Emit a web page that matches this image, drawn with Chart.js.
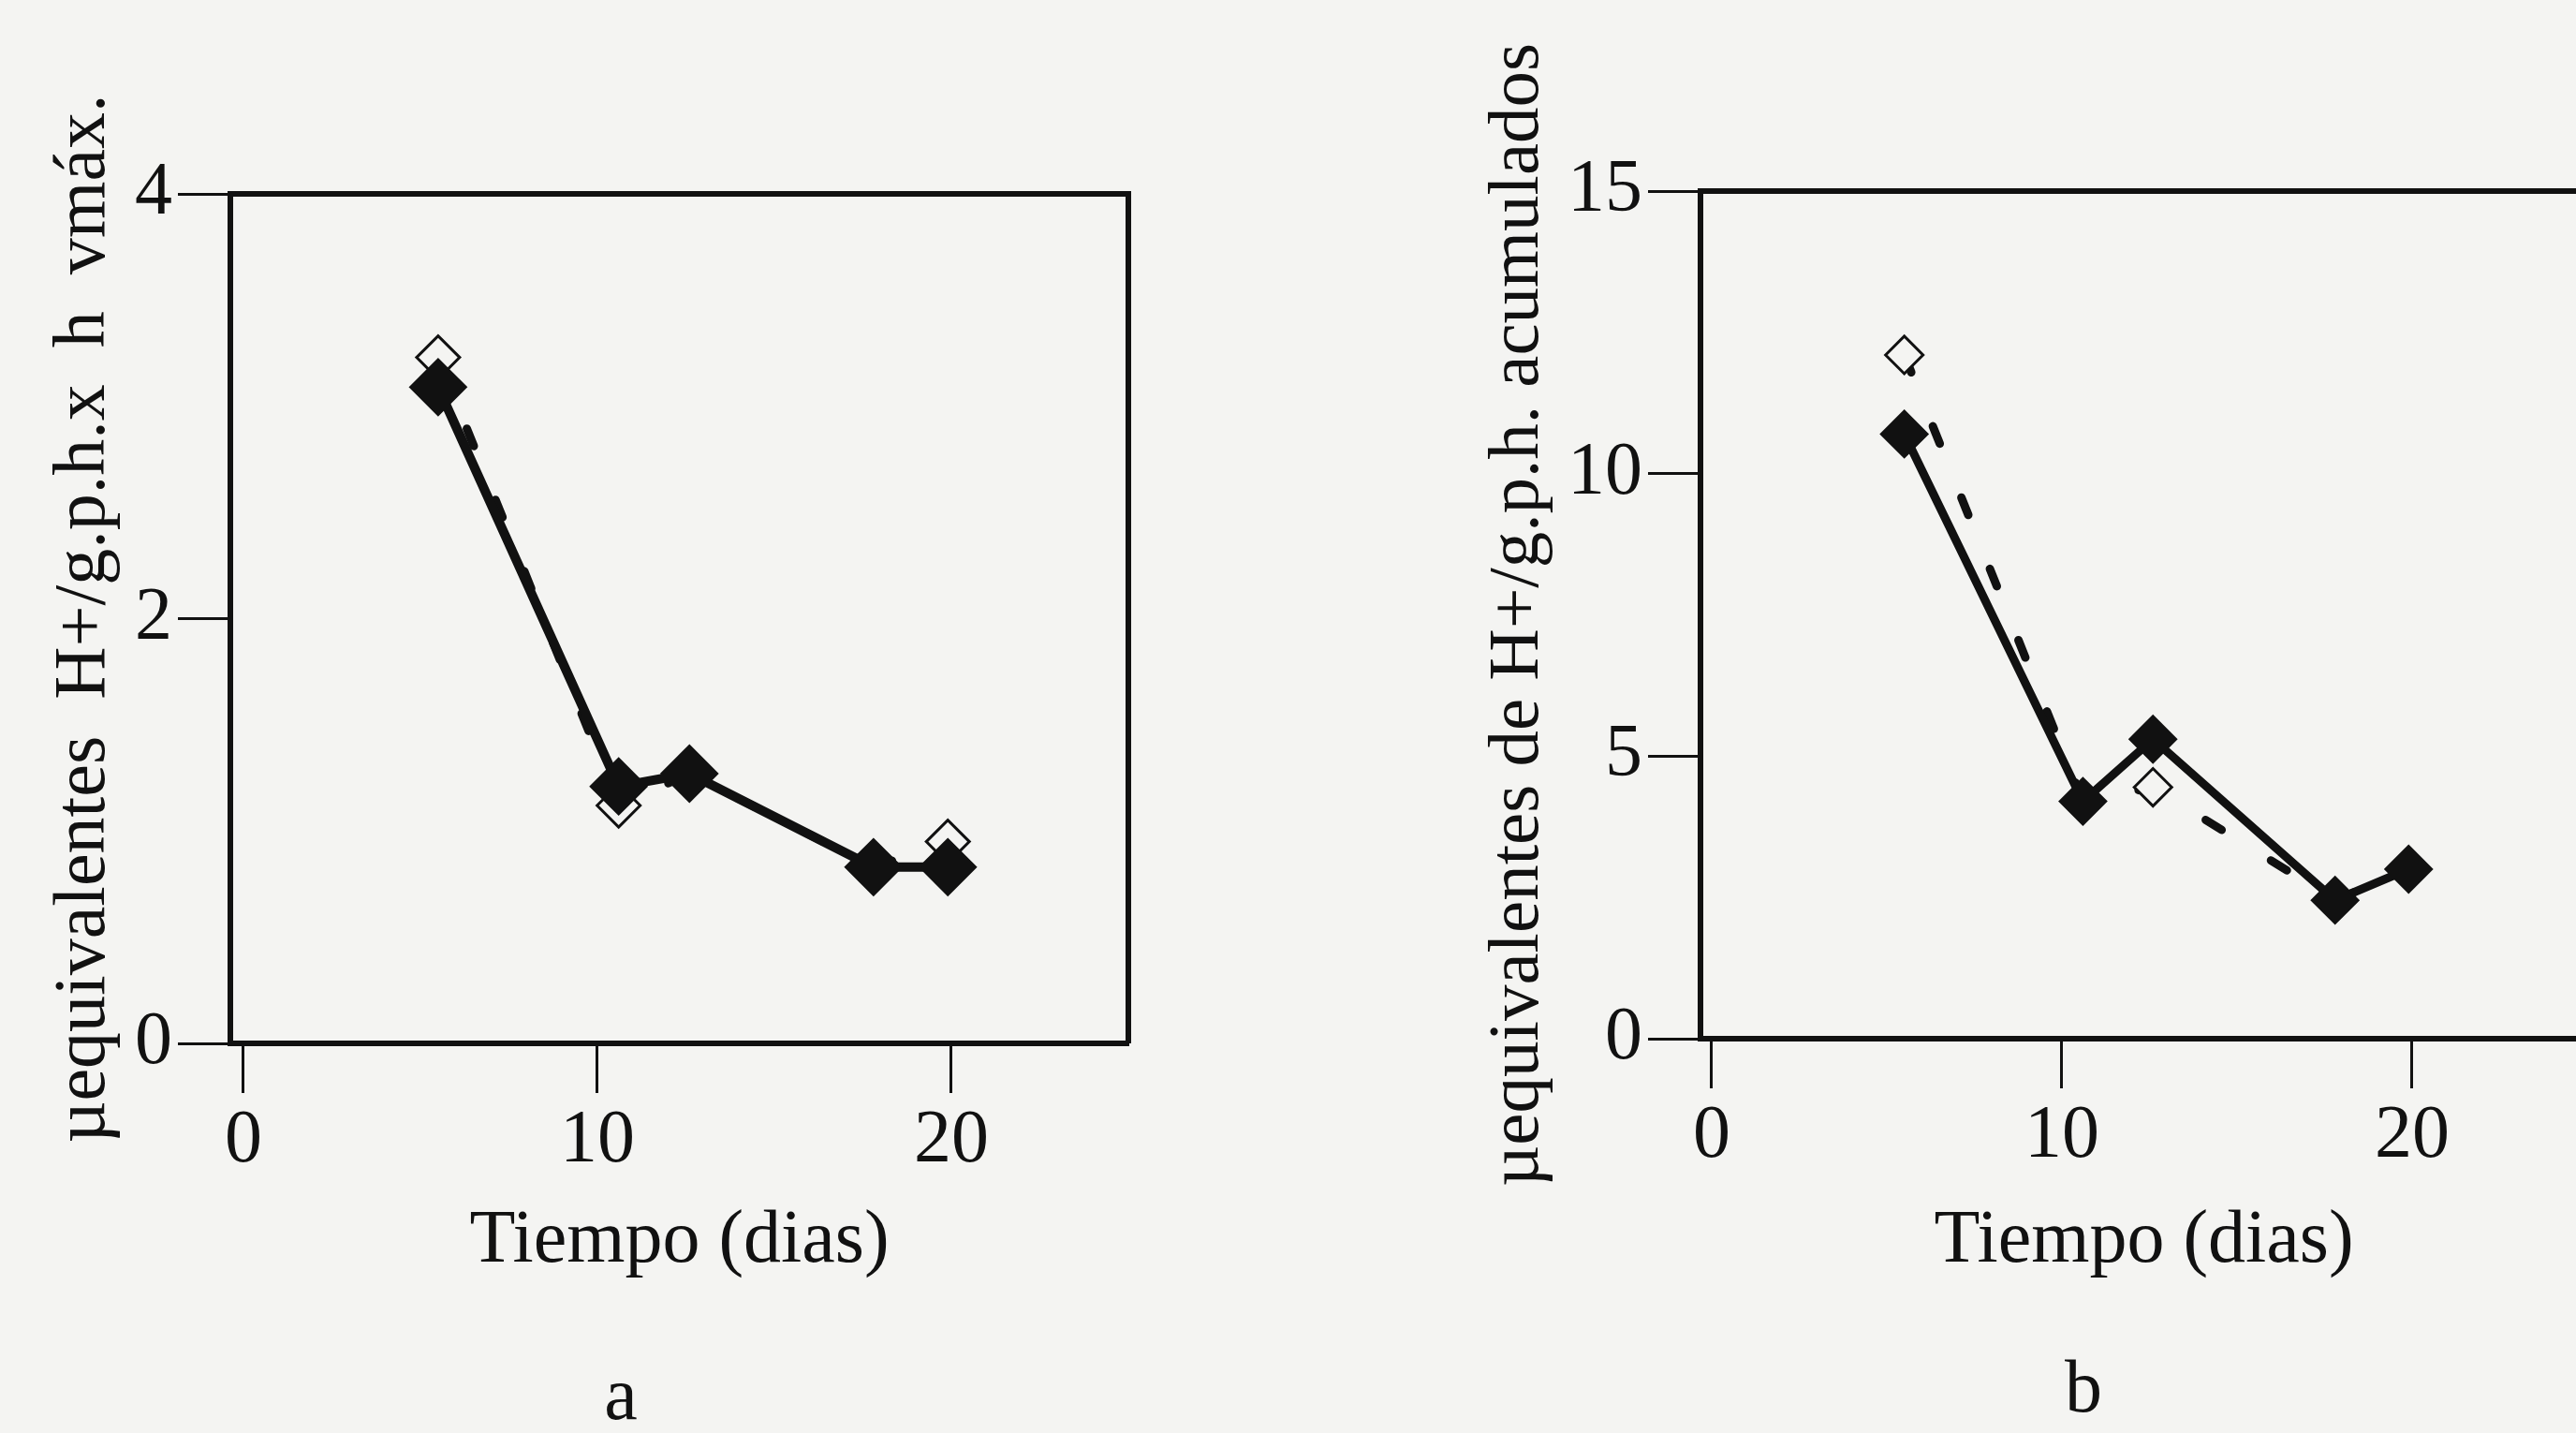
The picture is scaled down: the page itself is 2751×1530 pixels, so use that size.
<!DOCTYPE html>
<html>
<head>
<meta charset="utf-8">
<script src="https://cdn.jsdelivr.net/npm/chart.js@4.4.1/dist/chart.umd.min.js"></script>
<style>
    html, body { margin: 0; padding: 0; width: 2751px; height: 1530px; overflow: hidden; background: #f4f4f2; }
    canvas { position: absolute; top: 0; }
    #chartA { left: 0; }
    #chartB { left: 1500px; }
    .letra { position: absolute; font-family: "Liberation Serif", serif; font-size: 80px; line-height: 1; color: #111; transform: translate(-50%, -50%); }
</style>
</head>
<body>
<canvas id="chartA" width="1380" height="1530"></canvas>
<canvas id="chartB" width="1300" height="1530"></canvas>
<div class="letra" style="left:663px; top:1488px;">a</div>
<div class="letra" style="left:2225px; top:1480px;">b</div>
<script>
// tiempo de cultivo (dias)
const dias = [5.5, 10.6, 12.6, 17.8, 19.9];

// a: µequivalentes H+/g.p.h.x h vmáx.
const vmaxLlenos = [3.09, 1.21, 1.27, 0.83, 0.83];
const vmaxHuecos = [3.23, 1.12, 1.27, 0.83, 0.95];

// b: µequivalentes de H+/g.p.h. acumulados
const acumLlenos = [10.7, 4.2, 5.3, 2.45, 3.0];
const acumHuecos = [12.1, 4.2, 4.45, 2.45, 3.0];

const ticksX = [0, 10, 20];
const ticksVmax = [0, 2, 4];
const ticksAcum = [0, 5, 10, 15];

const fuente = "'Liberation Serif', 'Times New Roman', serif";
const tinta = "#111";
const papel = "#f4f4f2";

function puntos(xs, ys) {
    return xs.map((x, i) => ({x: x, y: ys[i]}));
}

// top and right sides of the box
const marco = {
    id: "marco",
    beforeDatasetsDraw(chart) {
        const a = chart.chartArea;
        const ctx = chart.ctx;
        ctx.save();
        ctx.strokeStyle = tinta;
        ctx.lineWidth = 6;
        ctx.beginPath();
        ctx.moveTo(a.left, a.top);
        ctx.lineTo(a.right, a.top);
        ctx.lineTo(a.right, a.bottom);
        ctx.stroke();
        ctx.restore();
    }
};

function drawPanel(canvasId, p) {
    const ctx = document.getElementById(canvasId);

    new Chart(ctx, {
        type: "line",
        data: {
            datasets: [{
                    label: "llenos",
                    data: puntos(dias, p.llenos),
                    borderColor: tinta,
                    borderWidth: p.linea,
                    tension: 0,
                    pointStyle: "rectRot",
                    pointRadius: p.rLleno,
                    pointBackgroundColor: tinta,
                    pointBorderColor: tinta,
                    pointBorderWidth: 2
                }, {
                    label: "huecos",
                    data: puntos(dias, p.huecos),
                    borderColor: tinta,
                    borderWidth: 9,
                    borderDash: [20, 62],
                    borderCapStyle: "round",
                    tension: 0,
                    pointStyle: "rectRot",
                    pointRadius: p.rHueco,
                    pointBackgroundColor: papel,
                    pointBorderColor: tinta,
                    pointBorderWidth: 3
                }]
        },
        options: {
            responsive: false,
            animation: false,
            events: [],
            layout: {padding: p.padding},
            plugins: {
                legend: {display: false},
                tooltip: {enabled: false}
            },
            scales: {
                x: {
                    type: "linear",
                    min: p.xMin,
                    max: 25,
                    afterBuildTicks: s => { s.ticks = ticksX.map(v => ({value: v})); },
                    afterFit: s => { s.height = p.altoX; },
                    grid: {drawOnChartArea: false, tickLength: 53, tickWidth: 3, tickColor: tinta},
                    border: {width: 6, color: tinta},
                    ticks: {font: {family: fuente, size: 80}, color: tinta, padding: 4, maxRotation: 0},
                    title: {
                        display: true,
                        text: "Tiempo (dias)",
                        font: {family: fuente, size: 80},
                        color: tinta,
                        padding: {top: 0, bottom: p.bajoTitulo}
                    }
                },
                y: {
                    min: 0,
                    max: p.yMax,
                    afterBuildTicks: s => { s.ticks = p.ticksY.map(v => ({value: v})); },
                    afterFit: s => { s.width = p.anchoY; },
                    grid: {drawOnChartArea: false, tickLength: 56, tickWidth: 3, tickColor: tinta},
                    border: {width: 6, color: tinta},
                    ticks: {font: {family: fuente, size: 80}, color: tinta, padding: 6},
                    title: {
                        display: true,
                        text: p.tituloY,
                        font: {family: fuente, size: p.letraY},
                        color: tinta,
                        padding: {top: p.izqTitulo, bottom: 0}
                    }
                }
            }
        },
        plugins: [marco]
    });
}

drawPanel("chartA", {
    llenos: vmaxLlenos,
    huecos: vmaxHuecos,
    ticksY: ticksVmax,
    yMax: 4,
    xMin: -0.37,
    tituloY: "µequivalentes  H+/g.p.h.x  h  vmáx.",
    letraY: 78,
    linea: 10,
    rLleno: 30,
    rHueco: 23,
    padding: {top: 207, right: 175, left: 0, bottom: 0},
    altoX: 416,
    anchoY: 246,
    bajoTitulo: 156,
    izqTitulo: 44
});

drawPanel("chartB", {
    llenos: acumLlenos,
    huecos: acumHuecos,
    ticksY: ticksAcum,
    yMax: 15,
    xMin: -0.32,
    tituloY: "µequivalentes de H+/g.p.h. acumulados",
    letraY: 77,
    linea: 9,
    rLleno: 25,
    rHueco: 20,
    padding: {top: 204, right: 37, left: 0, bottom: 0},
    altoX: 421,
    anchoY: 316,
    bajoTitulo: 156,
    izqTitulo: 76
});
</script>
</body>
</html>
